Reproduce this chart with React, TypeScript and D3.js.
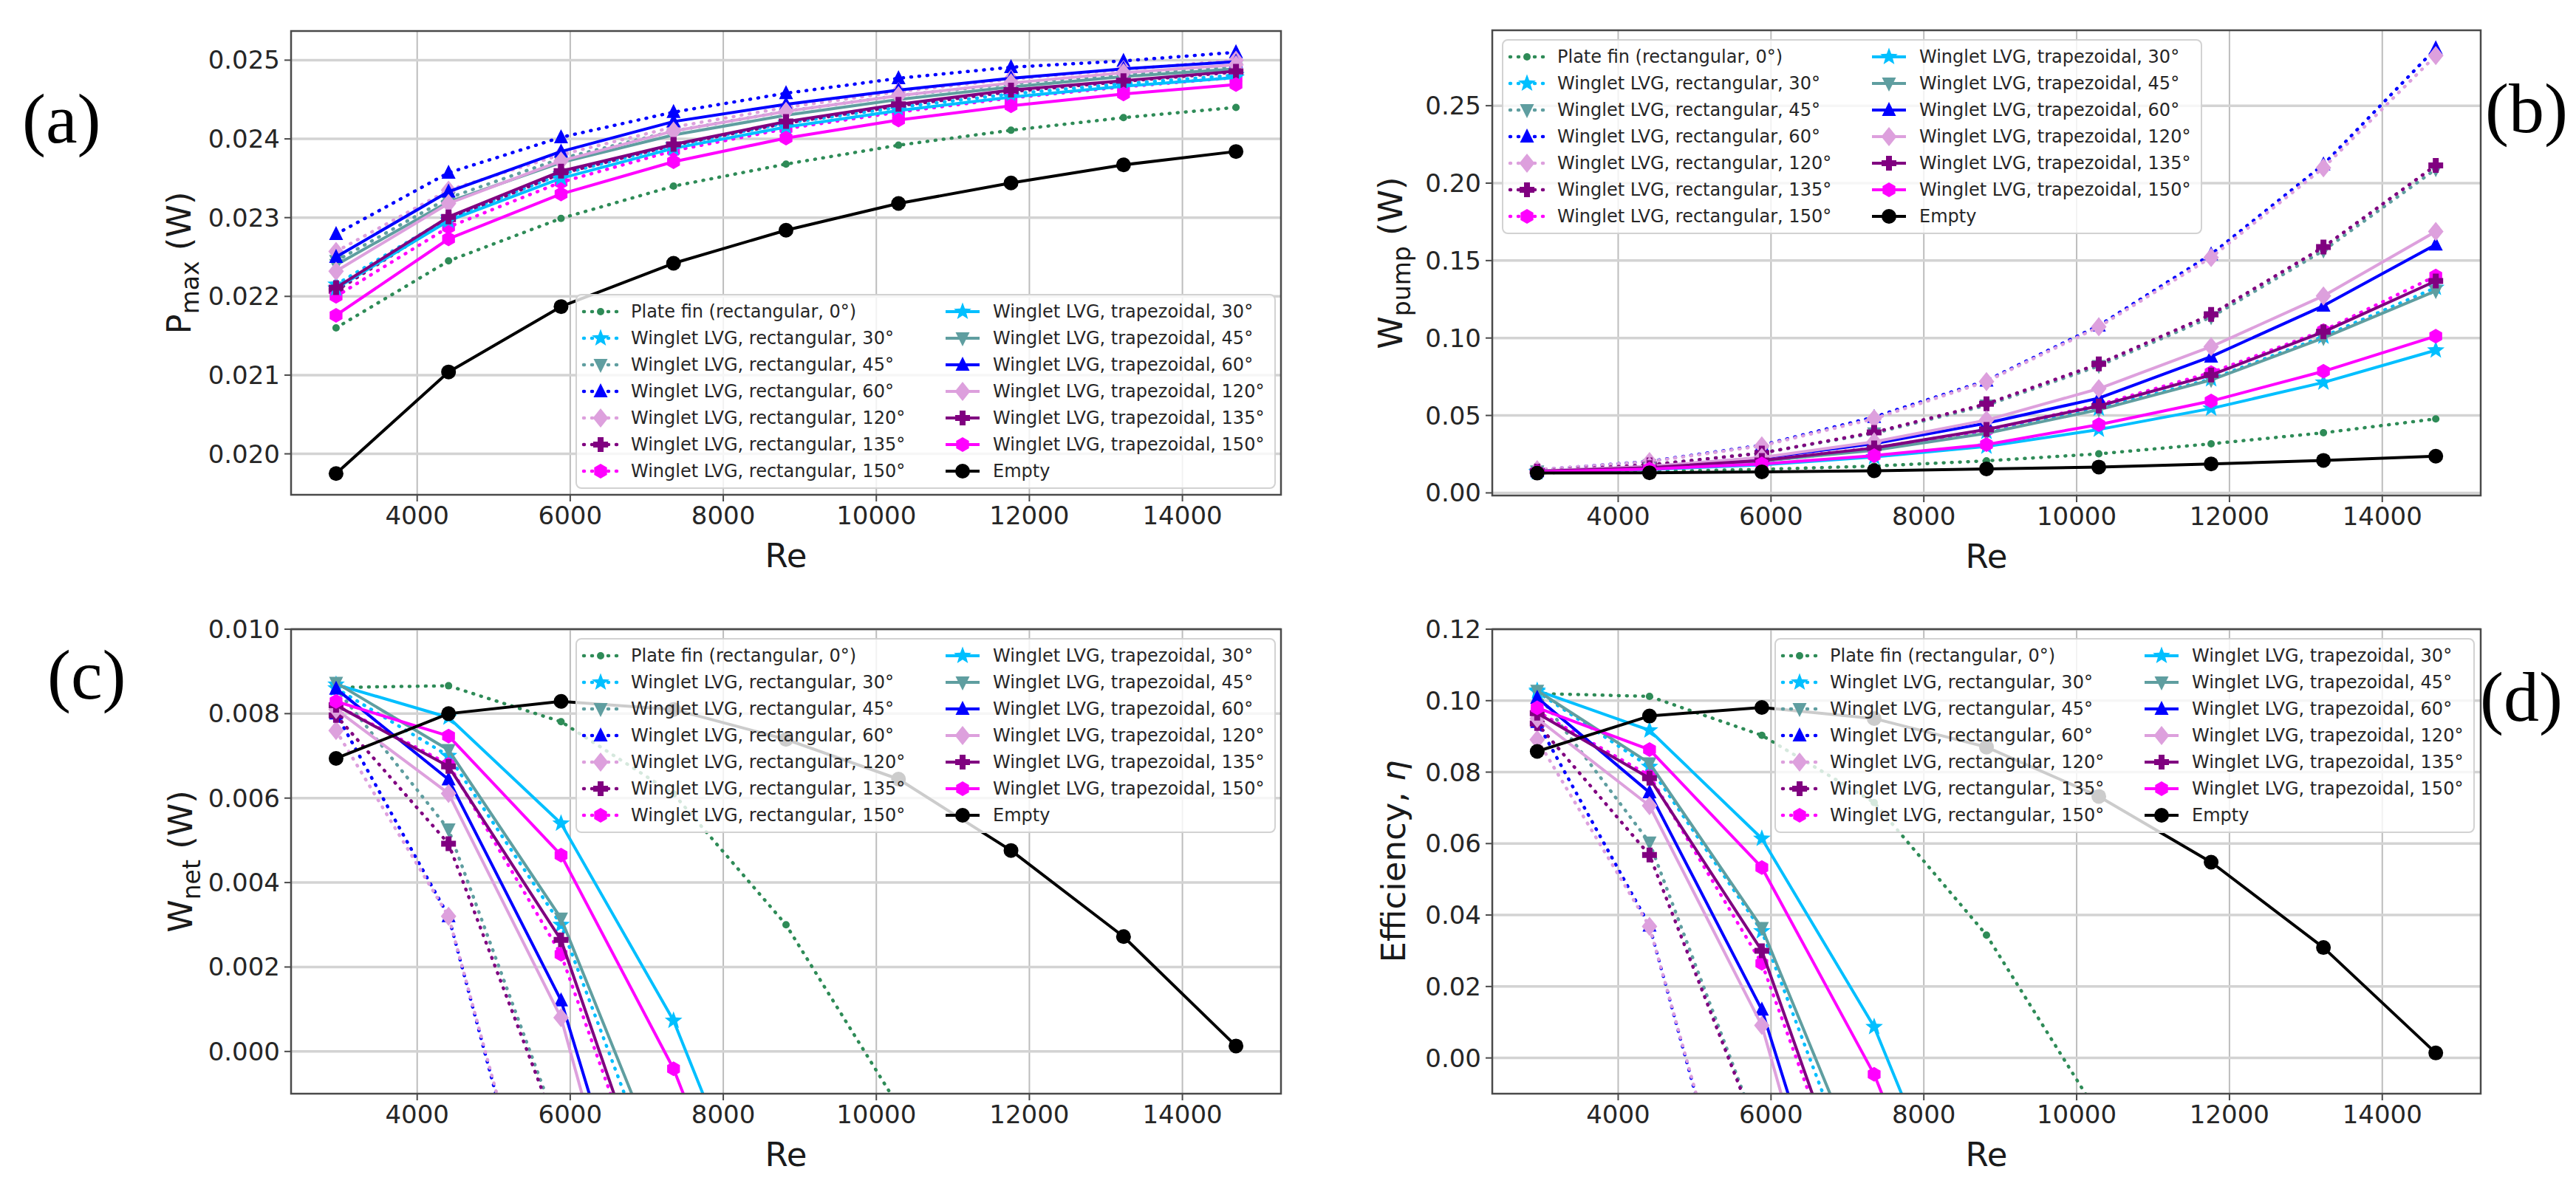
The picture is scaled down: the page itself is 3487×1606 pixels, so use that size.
import React from 'react';
import * as d3 from 'd3';

// ---------------- data ----------------
const RE = [2940, 4410, 5880, 7350, 8820, 10290, 11760, 13230, 14700];

const LABELS = [
  'Plate fin (rectangular, 0°)',
  'Winglet LVG, rectangular, 30°',
  'Winglet LVG, rectangular, 45°',
  'Winglet LVG, rectangular, 60°',
  'Winglet LVG, rectangular, 120°',
  'Winglet LVG, rectangular, 135°',
  'Winglet LVG, rectangular, 150°',
  'Winglet LVG, trapezoidal, 30°',
  'Winglet LVG, trapezoidal, 45°',
  'Winglet LVG, trapezoidal, 60°',
  'Winglet LVG, trapezoidal, 120°',
  'Winglet LVG, trapezoidal, 135°',
  'Winglet LVG, trapezoidal, 150°',
  'Empty',
];

// rows follow LABELS order
const PMAX = [
  [0.02160, 0.02245, 0.02299, 0.02340, 0.02368, 0.02392, 0.02411, 0.02427, 0.02440],
  [0.02215, 0.02300, 0.02355, 0.02392, 0.02420, 0.02440, 0.02457, 0.02470, 0.02481],
  [0.02245, 0.02325, 0.02375, 0.02410, 0.02435, 0.02455, 0.02470, 0.02482, 0.02492],
  [0.02279, 0.02357, 0.02402, 0.02434, 0.02458, 0.02477, 0.02491, 0.02499, 0.02510],
  [0.02257, 0.02335, 0.02380, 0.02415, 0.02440, 0.02460, 0.02476, 0.02488, 0.02500],
  [0.02207, 0.02298, 0.02356, 0.02392, 0.02420, 0.02442, 0.02460, 0.02473, 0.02485],
  [0.02200, 0.02288, 0.02345, 0.02385, 0.02413, 0.02434, 0.02452, 0.02466, 0.02478],
  [0.02210, 0.02296, 0.02350, 0.02388, 0.02415, 0.02436, 0.02453, 0.02467, 0.02478],
  [0.02240, 0.02320, 0.02370, 0.02405, 0.02430, 0.02450, 0.02466, 0.02479, 0.02489],
  [0.02250, 0.02333, 0.02384, 0.02422, 0.02444, 0.02462, 0.02477, 0.02489, 0.02498],
  [0.02232, 0.02318, 0.02372, 0.02410, 0.02435, 0.02455, 0.02471, 0.02484, 0.02494],
  [0.02211, 0.02301, 0.02359, 0.02393, 0.02422, 0.02444, 0.02462, 0.02474, 0.02486],
  [0.02176, 0.02273, 0.02330, 0.02371, 0.02401, 0.02424, 0.02442, 0.02457, 0.02469],
  [0.01975, 0.02104, 0.02187, 0.02242, 0.02284, 0.02318, 0.02344, 0.02367, 0.02384],
];

const WPUMP = [
  [0.0130, 0.0138, 0.0152, 0.0173, 0.0207, 0.0252, 0.0317, 0.0388, 0.0478],
  [0.0136, 0.0160, 0.0206, 0.0280, 0.0395, 0.0545, 0.0735, 0.1010, 0.1325],
  [0.0139, 0.0180, 0.0258, 0.0385, 0.0565, 0.0820, 0.1135, 0.1565, 0.2090],
  [0.0148, 0.0204, 0.0308, 0.0490, 0.0725, 0.1080, 0.1540, 0.2120, 0.2870],
  [0.0150, 0.0202, 0.0304, 0.0479, 0.0719, 0.1072, 0.1520, 0.2099, 0.2824],
  [0.0141, 0.0181, 0.0257, 0.0391, 0.0575, 0.0833, 0.1152, 0.1587, 0.2115],
  [0.0138, 0.0161, 0.0212, 0.0290, 0.0405, 0.0569, 0.0777, 0.1048, 0.1400],
  [0.0134, 0.0151, 0.0181, 0.0232, 0.0300, 0.0409, 0.0545, 0.0713, 0.0921],
  [0.0137, 0.0161, 0.0206, 0.0275, 0.0385, 0.0537, 0.0729, 0.1000, 0.1304],
  [0.0139, 0.0169, 0.0226, 0.0318, 0.0450, 0.0612, 0.0880, 0.1208, 0.1603],
  [0.0142, 0.0171, 0.0229, 0.0330, 0.0470, 0.0673, 0.0944, 0.1272, 0.1688],
  [0.0139, 0.0163, 0.0210, 0.0290, 0.0410, 0.0561, 0.0761, 0.1040, 0.1368],
  [0.0135, 0.0153, 0.0187, 0.0241, 0.0312, 0.0441, 0.0593, 0.0785, 0.1012],
  [0.0128, 0.0130, 0.0136, 0.0143, 0.0155, 0.0167, 0.0187, 0.0210, 0.0237],
];

const WNET = [
  [0.00862, 0.00866, 0.00781, 0.0061, 0.0030, -0.0013, -0.0076, -0.0145, -0.0234],
  [0.0086, 0.0070, 0.0030, -0.0041, -0.0153, -0.0301, -0.0489, -0.0763, -0.1077],
  [0.0086, 0.00526, -0.0020, -0.0144, -0.0322, -0.0575, -0.0888, -0.1317, -0.1841],
  [0.0080, 0.0032, -0.0068, -0.0247, -0.0479, -0.0832, -0.1291, -0.1870, -0.2619],
  [0.0076, 0.0032, -0.0066, -0.0238, -0.0475, -0.0826, -0.1272, -0.1850, -0.2574],
  [0.00796, 0.00492, -0.0021, -0.0152, -0.0333, -0.0589, -0.0906, -0.1340, -0.1867],
  [0.0082, 0.0068, 0.0023, -0.0052, -0.0164, -0.0326, -0.0532, -0.0801, -0.1152],
  [0.00869, 0.00791, 0.0054, 0.00073, -0.0059, -0.0165, -0.0300, -0.0466, -0.0673],
  [0.00873, 0.00714, 0.00315, -0.00345, -0.0142, -0.0292, -0.0482, -0.0752, -0.1055],
  [0.00859, 0.00644, 0.00121, -0.0076, -0.0206, -0.0366, -0.0632, -0.0959, -0.1353],
  [0.0081, 0.00611, 0.0008, -0.0089, -0.0227, -0.0428, -0.0697, -0.1024, -0.1439],
  [0.0082, 0.00675, 0.00264, -0.0051, -0.0168, -0.0317, -0.0515, -0.0793, -0.1119],
  [0.00829, 0.00747, 0.00465, -0.00041, -0.0072, -0.0199, -0.0349, -0.0539, -0.0765],
  [0.00694, 0.0080, 0.00829, 0.0081, 0.00739, 0.00645, 0.00476, 0.00272, 0.00013],
];

const EFF = [
  [0.1020, 0.1012, 0.0903, 0.0715, 0.0344, -0.016, -0.09, -0.17, -0.27],
  [0.1025, 0.0815, 0.0355, -0.048, -0.18, -0.35, -0.56, -0.88, -1.24],
  [0.1020, 0.0603, -0.0235, -0.165, -0.37, -0.66, -1.02, -1.51, -2.12],
  [0.0940, 0.0370, -0.078, -0.28, -0.55, -0.96, -1.48, -2.15, -3.0],
  [0.0891, 0.0368, -0.076, -0.27, -0.55, -0.95, -1.46, -2.13, -2.96],
  [0.0936, 0.0568, -0.024, -0.175, -0.38, -0.68, -1.04, -1.54, -2.15],
  [0.0970, 0.0790, 0.0265, -0.060, -0.19, -0.375, -0.61, -0.92, -1.32],
  [0.1028, 0.0917, 0.0614, 0.0087, -0.068, -0.19, -0.345, -0.535, -0.77],
  [0.1028, 0.0825, 0.0364, -0.040, -0.163, -0.335, -0.55, -0.86, -1.21],
  [0.1008, 0.0743, 0.0135, -0.087, -0.237, -0.42, -0.73, -1.10, -1.55],
  [0.0950, 0.0706, 0.0091, -0.102, -0.26, -0.49, -0.80, -1.18, -1.65],
  [0.0965, 0.0783, 0.0300, -0.059, -0.193, -0.365, -0.59, -0.91, -1.29],
  [0.0980, 0.0863, 0.0533, -0.0046, -0.083, -0.229, -0.40, -0.62, -0.88],
  [0.0858, 0.0957, 0.0981, 0.0950, 0.0870, 0.0732, 0.0548, 0.0309, 0.0014],
];

const X_TICKS = [4000, 6000, 8000, 10000, 12000, 14000];
const PMAX_TICKS = [0.020, 0.021, 0.022, 0.023, 0.024, 0.025];
const WPUMP_TICKS = [0.0, 0.05, 0.1, 0.15, 0.2, 0.25];
const WNET_TICKS = [0.0, 0.002, 0.004, 0.006, 0.008, 0.010];
const EFF_TICKS = [0.0, 0.02, 0.04, 0.06, 0.08, 0.1, 0.12];

// ---------------- styles ----------------
const COLORS = ['#2e8b57', '#00bfff', '#5f9ea0', '#0000ff', '#dda0dd', '#800080', '#ff00ff',
  '#00bfff', '#5f9ea0', '#0000ff', '#dda0dd', '#800080', '#ff00ff', '#000000'];
const MARKERS = ['point', 'star', 'tridown', 'triup', 'diamond', 'plus', 'hexagon',
  'star', 'tridown', 'triup', 'diamond', 'plus', 'hexagon', 'circle'];
const DOTTED = [true, true, true, true, true, true, true, false, false, false, false, false, false, false];

const SANS = 'DejaVu Sans, Verdana, sans-serif';
const SERIF = 'Liberation Serif, Times New Roman, serif';

function markerPath(type: string): string {
  const poly = (pts: number[][]) => 'M' + pts.map((p) => `${p[0].toFixed(2)},${p[1].toFixed(2)}`).join('L') + 'Z';
  const circ = (r: number) => `M${-r},0A${r},${r} 0 1,0 ${r},0A${r},${r} 0 1,0 ${-r},0Z`;
  switch (type) {
    case 'point': return circ(5);
    case 'circle': return circ(10);
    case 'star': {
      const pts: number[][] = [];
      for (let k = 0; k < 10; k++) {
        const r = k % 2 === 0 ? 12.5 : 5.2;
        const a = -Math.PI / 2 + (k * Math.PI) / 5;
        pts.push([r * Math.cos(a), r * Math.sin(a)]);
      }
      return poly(pts);
    }
    case 'triup': return poly([[0, -11], [9.5, 8], [-9.5, 8]]);
    case 'tridown': return poly([[0, 11], [9.5, -8], [-9.5, -8]]);
    case 'diamond': return poly([[0, -13], [10.5, 0], [0, 13], [-10.5, 0]]);
    case 'plus': {
      const a = 10, w = 4;
      return poly([[-w, -a], [w, -a], [w, -w], [a, -w], [a, w], [w, w], [w, a], [-w, a], [-w, w], [-a, w], [-a, -w], [-w, -w]]);
    }
    case 'hexagon': {
      const pts: number[][] = [];
      for (let k = 0; k < 6; k++) {
        const a = -Math.PI / 2 + (k * Math.PI) / 3;
        pts.push([10 * Math.cos(a), 10 * Math.sin(a)]);
      }
      return poly(pts);
    }
    default: return circ(8);
  }
}

type Panel = {
  id: string;
  left: number; right: number; top: number; bottom: number;
  yDomain: [number, number];
  yTicks: number[];
  yFmt: (v: number) => string;
  data: number[][];
  ylabel: React.ReactNode;
  ylabelX: number;
  legend: { x: number; y: number };
  tag: { text: string; x: number; y: number };
};

const PANELS: Panel[] = [
  {
    id: 'a', left: 394, right: 1734, top: 42, bottom: 670,
    yDomain: [0.01948, 0.02537], yTicks: PMAX_TICKS, yFmt: d3.format('.3f'), data: PMAX,
    ylabel: (<><tspan>P</tspan><tspan dy={11} fontSize={33}>max</tspan><tspan dy={-11}> (W)</tspan></>),
    ylabelX: 258, legend: { x: 780, y: 399 }, tag: { text: '(a)', x: 30, y: 193 },
  },
  {
    id: 'b', left: 2020, right: 3358, top: 41, bottom: 671,
    yDomain: [-0.0017, 0.2987], yTicks: WPUMP_TICKS, yFmt: d3.format('.2f'), data: WPUMP,
    ylabel: (<><tspan>W</tspan><tspan dy={11} fontSize={33}>pump</tspan><tspan dy={-11}> (W)</tspan></>),
    ylabelX: 1898, legend: { x: 2034, y: 54 }, tag: { text: '(b)', x: 3364, y: 179 },
  },
  {
    id: 'c', left: 394, right: 1734, top: 852, bottom: 1481,
    yDomain: [-0.001, 0.010], yTicks: WNET_TICKS, yFmt: d3.format('.3f'), data: WNET,
    ylabel: (<><tspan>W</tspan><tspan dy={11} fontSize={33}>net</tspan><tspan dy={-11}> (W)</tspan></>),
    ylabelX: 260, legend: { x: 780, y: 865 }, tag: { text: '(c)', x: 64, y: 946 },
  },
  {
    id: 'd', left: 2020, right: 3358, top: 852, bottom: 1481,
    yDomain: [-0.01, 0.12], yTicks: EFF_TICKS, yFmt: d3.format('.2f'), data: EFF,
    ylabel: (<><tspan>Efficiency, </tspan><tspan fontStyle="italic">η</tspan></>),
    ylabelX: 1902, legend: { x: 2403, y: 865 }, tag: { text: '(d)', x: 3357, y: 976 },
  },
];

const LEG_W = 946;
const LEG_ROW = 36;
const LEG_H = 262;
const DOT_DASH = '1 10';

function Legend({ x, y }: { x: number; y: number }) {
  return (
    <g transform={`translate(${x},${y})`}>
      <rect x={0} y={0} width={LEG_W} height={LEG_H} rx={7} fill="#ffffff" fillOpacity={0.8}
        stroke="#d2d2d2" strokeWidth={2} />
      {LABELS.map((lab, i) => {
        const col = i < 7 ? 0 : 1;
        const row = i % 7;
        const cx = 8 + col * 490;
        const cy = 23 + row * LEG_ROW;
        return (
          <g key={lab}>
            <line x1={cx + 2} x2={cx + 48} y1={cy} y2={cy} stroke={COLORS[i]}
              strokeWidth={DOTTED[i] ? 4.5 : 4} strokeDasharray={DOTTED[i] ? DOT_DASH : undefined}
              strokeLinecap={DOTTED[i] ? 'round' : 'butt'} />
            <path d={markerPath(MARKERS[i])} transform={`translate(${cx + 25},${cy})`} fill={COLORS[i]} />
            <text x={cx + 66} y={cy} dominantBaseline="central" fontFamily={SANS} fontSize={24} fill="#262626">{lab}</text>
          </g>
        );
      })}
    </g>
  );
}

function PanelView({ p }: { p: Panel }) {
  const x = d3.scaleLinear().domain([2352, 15288]).range([p.left, p.right]);
  const y = d3.scaleLinear().domain(p.yDomain).range([p.bottom, p.top]);
  const line = d3.line<number>().x((_, i) => x(RE[i])).y((v) => y(v));
  const clipId = `clip-${p.id}`;
  const cxMid = (p.left + p.right) / 2;
  const cyMid = (p.top + p.bottom) / 2;
  return (
    <g>
      <defs>
        <clipPath id={clipId}>
          <rect x={p.left} y={p.top} width={p.right - p.left} height={p.bottom - p.top} />
        </clipPath>
      </defs>
      <rect x={p.left} y={p.top} width={p.right - p.left} height={p.bottom - p.top} fill="#ffffff" />
      {/* grid */}
      {X_TICKS.map((t) => (
        <line key={`gx${t}`} x1={x(t)} x2={x(t)} y1={p.top} y2={p.bottom} stroke="#bdbdbd" strokeWidth={2} />
      ))}
      {p.yTicks.map((t) => (
        <line key={`gy${t}`} x1={p.left} x2={p.right} y1={y(t)} y2={y(t)} stroke="#d3d3d3" strokeWidth={3.5} />
      ))}
      {/* series */}
      <g clipPath={`url(#${clipId})`}>
        {p.data.map((vals, i) => (
          <g key={LABELS[i]}>
            <path d={line(vals) || ''} fill="none" stroke={COLORS[i]}
              strokeWidth={DOTTED[i] ? 4.5 : 4}
              strokeDasharray={DOTTED[i] ? DOT_DASH : undefined}
              strokeLinecap={DOTTED[i] ? 'round' : 'butt'} strokeLinejoin="round" />
            {vals.map((v, k) => (
              <path key={k} d={markerPath(MARKERS[i])} transform={`translate(${x(RE[k])},${y(v)})`} fill={COLORS[i]} />
            ))}
          </g>
        ))}
      </g>
      {/* spines */}
      <rect x={p.left} y={p.top} width={p.right - p.left} height={p.bottom - p.top} fill="none" stroke="#4a4a4a" strokeWidth={2.5} />
      {/* x ticks */}
      {X_TICKS.map((t) => (
        <g key={`tx${t}`}>
          <line x1={x(t)} x2={x(t)} y1={p.bottom} y2={p.bottom + 9} stroke="#4a4a4a" strokeWidth={2} />
          <text x={x(t)} y={p.bottom + 40} textAnchor="middle" fontFamily={SANS} fontSize={34} fill="#262626">{t}</text>
        </g>
      ))}
      {/* y ticks */}
      {p.yTicks.map((t) => (
        <g key={`ty${t}`}>
          <line x1={p.left - 9} x2={p.left} y1={y(t)} y2={y(t)} stroke="#4a4a4a" strokeWidth={2} />
          <text x={p.left - 15} y={y(t)} textAnchor="end" dominantBaseline="central" fontFamily={SANS} fontSize={34} fill="#262626">{p.yFmt(t)}</text>
        </g>
      ))}
      <text x={cxMid} y={p.bottom + 98} textAnchor="middle" fontFamily={SANS} fontSize={45} fill="#1a1a1a">Re</text>
      <text transform={`translate(${p.ylabelX},${cyMid}) rotate(-90)`} textAnchor="middle" fontFamily={SANS} fontSize={45} fill="#1a1a1a">{p.ylabel}</text>
      <Legend x={p.legend.x} y={p.legend.y} />
      <text x={p.tag.x} y={p.tag.y} fontFamily={SERIF} fontSize={96} fill="#000000">{p.tag.text}</text>
    </g>
  );
}

export default function App() {
  return (
    <svg width={3487} height={1606} viewBox="0 0 3487 1606"
      style={{ position: 'absolute', left: 0, top: 0, display: 'block', background: '#ffffff' }}>
      <rect x={0} y={0} width={3487} height={1606} fill="#ffffff" />
      {PANELS.map((p) => <PanelView key={p.id} p={p} />)}
    </svg>
  );
}
